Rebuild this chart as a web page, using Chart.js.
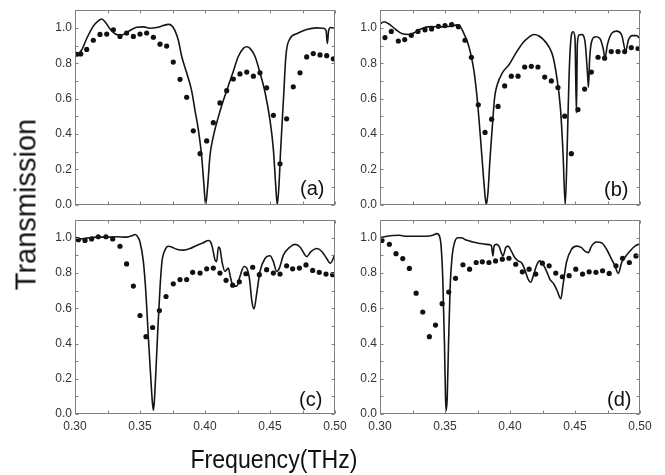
<!DOCTYPE html>
<html>
<head>
<meta charset="utf-8">
<script src="https://cdn.jsdelivr.net/npm/chart.js@4.4.1/dist/chart.umd.min.js"></script>
<style>
  body { margin: 0; background: #fff; width: 665px; height: 475px; position: relative; overflow: hidden;
         font-family: "Liberation Sans", Arial, sans-serif; color: #111; }
  canvas { position: absolute; }
  .panelTag { position: absolute; font-size: 20px; line-height: 20px; white-space: nowrap; }
  #yTitle { position: absolute; left: -94px; top: 190px; width: 240px; height: 29px; line-height: 29px;
            font-size: 29px; text-align: center; transform: rotate(-90deg); }
  #xTitle { position: absolute; left: 74px; top: 446px; width: 400px; line-height: 26px; font-size: 26px;
            text-align: center; transform: scaleX(0.89); }
</style>
</head>
<body>
<canvas id="panelA" width="345" height="215" style="left:0px;top:0px"></canvas>
<canvas id="panelB" width="360" height="215" style="left:305px;top:0px"></canvas>
<canvas id="panelC" width="355" height="265" style="left:0px;top:210px"></canvas>
<canvas id="panelD" width="360" height="265" style="left:305px;top:210px"></canvas>

<div class="panelTag" style="left:300px;top:178px">(a)</div>
<div class="panelTag" style="left:604px;top:179px">(b)</div>
<div class="panelTag" style="left:299px;top:389px">(c)</div>
<div class="panelTag" style="left:607px;top:389px">(d)</div>
<div id="yTitle">Transmission</div>
<div id="xTitle">Frequency(THz)</div>

<script>
// axis ticks
const X_LABELS = [0.30, 0.35, 0.40, 0.45, 0.50];
const Y_LABELS = [0.0, 0.2, 0.4, 0.6, 0.8, 1.0];
const X_MARKS = [0.30, 0.325, 0.35, 0.375, 0.40, 0.425, 0.45, 0.475, 0.50];
const Y_MARKS = [0.0, 0.1, 0.2, 0.3, 0.4, 0.5, 0.6, 0.7, 0.8, 0.9, 1.0];

// (a) simulation line + measured dots
const A_LINE_F = [0.3000,0.3026,0.3051,0.3090,0.3141,0.3179,0.3205,0.3231,0.3269,0.3308,0.3346,0.3385,0.3423,0.3474,0.3526,0.3577,0.3628,0.3679,0.3718,0.3744,0.3769,0.3795,0.3821,0.3859,0.3897,0.3923,0.3949,0.3974,0.3992,0.4005,0.4021,0.4038,0.4064,0.4103,0.4141,0.4179,0.4218,0.4256,0.4295,0.4321,0.4346,0.4385,0.4423,0.4462,0.4500,0.4526,0.4544,0.4556,0.4569,0.4582,0.4603,0.4623,0.4654,0.4705,0.4782,0.4859,0.4910,0.4931,0.4941,0.4951,0.4967,0.4987,0.5000];
const A_LINE_T = [0.856,0.856,0.875,0.940,1.010,1.040,1.050,1.035,0.994,0.967,0.958,0.967,0.985,1.004,1.006,0.998,1.002,1.013,1.020,1.013,0.985,0.930,0.838,0.746,0.645,0.534,0.424,0.276,0.110,0.000,0.110,0.276,0.387,0.497,0.589,0.672,0.755,0.838,0.884,0.893,0.884,0.838,0.746,0.635,0.479,0.313,0.110,0.000,0.110,0.313,0.589,0.847,0.939,0.967,0.991,1.000,0.998,0.985,0.912,0.985,1.002,1.000,0.994];
const A_DOT_F = [0.3013,0.3044,0.3090,0.3141,0.3192,0.3244,0.3295,0.3346,0.3397,0.3449,0.3500,0.3551,0.3603,0.3654,0.3705,0.3756,0.3808,0.3859,0.3910,0.3962,0.4013,0.4064,0.4115,0.4167,0.4218,0.4269,0.4321,0.4372,0.4423,0.4474,0.4526,0.4577,0.4628,0.4679,0.4731,0.4782,0.4833,0.4885,0.4936,0.4987];
const A_DOT_T = [0.851,0.853,0.878,0.930,0.963,0.965,0.989,0.952,0.971,0.952,0.965,0.971,0.947,0.908,0.897,0.807,0.709,0.608,0.418,0.289,0.361,0.464,0.576,0.645,0.711,0.740,0.750,0.727,0.746,0.661,0.506,0.232,0.486,0.667,0.746,0.836,0.855,0.847,0.843,0.825];

// (b)
const B_LINE_F = [0.3000,0.3031,0.3069,0.3121,0.3172,0.3223,0.3262,0.3313,0.3390,0.3467,0.3544,0.3595,0.3621,0.3646,0.3672,0.3697,0.3723,0.3749,0.3774,0.3795,0.3810,0.3818,0.3831,0.3846,0.3864,0.3882,0.3903,0.3941,0.3992,0.4044,0.4095,0.4146,0.4185,0.4223,0.4262,0.4300,0.4330,0.4358,0.4388,0.4408,0.4425,0.4441,0.4454,0.4467,0.4485,0.4500,0.4511,0.4518,0.4531,0.4552,0.4577,0.4598,0.4603,0.4613,0.4628,0.4659,0.4690,0.4716,0.4731,0.4749,0.4782,0.4818,0.4859,0.4890,0.4911,0.4941,0.4972,0.5000];
const B_LINE_T = [1.022,1.035,1.022,0.991,0.967,0.963,0.972,0.994,1.007,1.006,1.009,1.017,1.004,0.967,0.921,0.856,0.755,0.589,0.368,0.166,0.037,0.000,0.074,0.258,0.442,0.608,0.681,0.746,0.792,0.856,0.912,0.948,0.963,0.954,0.930,0.893,0.840,0.730,0.545,0.290,0.000,0.353,0.720,0.923,0.978,0.941,0.519,0.905,0.960,0.963,0.923,0.720,0.665,0.830,0.923,0.950,0.941,0.886,0.830,0.904,0.969,0.982,0.960,0.870,0.932,0.956,0.956,0.940];
const B_DOT_F = [0.3038,0.3087,0.3141,0.3190,0.3241,0.3292,0.3346,0.3397,0.3449,0.3500,0.3551,0.3603,0.3654,0.3703,0.3756,0.3808,0.3859,0.3908,0.3959,0.4010,0.4062,0.4113,0.4164,0.4215,0.4267,0.4318,0.4369,0.4421,0.4472,0.4523,0.4574,0.4626,0.4677,0.4728,0.4779,0.4831,0.4882,0.4933,0.4985];
const B_DOT_T = [0.945,0.980,0.926,0.934,0.958,0.980,0.989,0.994,1.009,1.013,1.018,1.007,0.930,0.834,0.565,0.409,0.484,0.556,0.672,0.727,0.727,0.779,0.783,0.779,0.722,0.700,0.663,0.501,0.289,0.538,0.654,0.750,0.834,0.829,0.866,0.866,0.866,0.889,0.884];

// (c)
const C_LINE_F = [0.3000,0.3038,0.3090,0.3167,0.3244,0.3321,0.3397,0.3444,0.3462,0.3479,0.3500,0.3526,0.3546,0.3564,0.3582,0.3595,0.3603,0.3610,0.3623,0.3638,0.3654,0.3669,0.3692,0.3718,0.3744,0.3782,0.3833,0.3885,0.3936,0.3987,0.4026,0.4044,0.4059,0.4077,0.4090,0.4103,0.4115,0.4133,0.4154,0.4179,0.4197,0.4218,0.4244,0.4269,0.4300,0.4321,0.4341,0.4362,0.4377,0.4397,0.4423,0.4462,0.4500,0.4526,0.4551,0.4572,0.4603,0.4654,0.4692,0.4731,0.4762,0.4782,0.4813,0.4859,0.4897,0.4936,0.4962,0.4982,0.5000];
const C_LINE_T = [1.004,0.994,0.998,1.004,1.004,1.006,1.004,1.013,1.019,1.009,0.976,0.865,0.680,0.439,0.217,0.069,0.022,0.069,0.254,0.494,0.717,0.865,0.930,0.952,0.948,0.935,0.930,0.939,0.957,0.972,0.985,0.976,0.939,0.874,0.865,0.948,0.939,0.856,0.809,0.828,0.772,0.726,0.726,0.781,0.837,0.828,0.772,0.633,0.596,0.680,0.809,0.883,0.898,0.865,0.809,0.828,0.902,0.948,0.963,0.948,0.911,0.893,0.920,0.939,0.924,0.883,0.856,0.874,0.911];
const C_DOT_F = [0.3026,0.3077,0.3128,0.3179,0.3238,0.3290,0.3346,0.3397,0.3449,0.3500,0.3546,0.3597,0.3649,0.3700,0.3756,0.3808,0.3859,0.3905,0.3962,0.4013,0.4064,0.4115,0.4162,0.4213,0.4264,0.4315,0.4367,0.4418,0.4474,0.4526,0.4577,0.4628,0.4674,0.4726,0.4777,0.4828,0.4879,0.4931,0.4982];
const C_DOT_T = [0.989,0.985,0.994,1.006,1.006,0.994,0.952,0.852,0.726,0.559,0.439,0.491,0.587,0.667,0.739,0.763,0.763,0.804,0.800,0.824,0.828,0.800,0.759,0.731,0.750,0.796,0.833,0.791,0.819,0.800,0.794,0.841,0.824,0.828,0.846,0.815,0.804,0.794,0.791];

// (d)
const D_LINE_F = [0.3000,0.3033,0.3098,0.3149,0.3201,0.3278,0.3355,0.3406,0.3437,0.3458,0.3470,0.3483,0.3496,0.3504,0.3509,0.3517,0.3527,0.3540,0.3555,0.3573,0.3599,0.3625,0.3663,0.3715,0.3766,0.3817,0.3856,0.3869,0.3877,0.3895,0.3915,0.3933,0.3946,0.3967,0.3985,0.4010,0.4036,0.4062,0.4087,0.4113,0.4139,0.4159,0.4183,0.4208,0.4229,0.4254,0.4285,0.4306,0.4337,0.4362,0.4391,0.4409,0.4434,0.4473,0.4512,0.4550,0.4576,0.4602,0.4627,0.4666,0.4704,0.4743,0.4781,0.4807,0.4833,0.4859,0.4892,0.4923,0.4961,0.5000];
const D_LINE_T = [1.000,1.006,1.013,1.015,1.009,1.009,1.009,1.015,1.024,1.009,0.953,0.766,0.393,0.093,0.019,0.093,0.393,0.729,0.897,0.972,1.000,1.000,0.987,0.976,0.968,0.963,0.957,0.897,0.953,0.963,0.953,0.916,0.897,0.944,0.953,0.925,0.888,0.869,0.860,0.822,0.766,0.748,0.794,0.850,0.869,0.850,0.804,0.766,0.738,0.701,0.654,0.738,0.860,0.935,0.953,0.944,0.925,0.916,0.953,0.976,0.972,0.935,0.879,0.841,0.798,0.860,0.897,0.925,0.953,0.966];
const D_DOT_F = [0.3015,0.3072,0.3123,0.3175,0.3226,0.3278,0.3329,0.3380,0.3427,0.3478,0.3529,0.3581,0.3638,0.3689,0.3740,0.3787,0.3838,0.3889,0.3941,0.3992,0.4044,0.4095,0.4147,0.4198,0.4249,0.4301,0.4352,0.4403,0.4455,0.4506,0.4558,0.4609,0.4661,0.4712,0.4763,0.4815,0.4866,0.4918,0.4969];
const D_DOT_T = [0.985,0.963,0.910,0.882,0.826,0.686,0.579,0.439,0.505,0.626,0.692,0.770,0.847,0.822,0.860,0.864,0.860,0.869,0.879,0.884,0.850,0.807,0.822,0.794,0.856,0.841,0.800,0.779,0.785,0.822,0.794,0.807,0.804,0.813,0.798,0.841,0.884,0.860,0.897];

// box round the plot with small inward ticks on all four sides
const frameTicks = {
  id: "frameTicks",
  afterDraw(chart) {
    const { ctx, chartArea: a, scales } = chart;
    const L = Math.round(a.left) + 0.5;
    const R = Math.round(a.right) - 0.5;
    const T = Math.round(a.top) + 0.5;
    const B = Math.round(a.bottom) - 0.5;

    ctx.save();
    ctx.strokeStyle = "#7f7f7f";
    ctx.lineWidth = 1;
    ctx.strokeRect(L, T, R - L, B - T);
    ctx.beginPath();
    X_MARKS.forEach(v => {
      const px = Math.round(scales.x.getPixelForValue(v)) + 0.5;
      ctx.moveTo(px, B); ctx.lineTo(px, B - 3);
      ctx.moveTo(px, T); ctx.lineTo(px, T + 3);
    });
    Y_MARKS.forEach(v => {
      const py = Math.round(scales.y.getPixelForValue(v)) + 0.5;
      ctx.moveTo(L, py); ctx.lineTo(L + 3, py);
      ctx.moveTo(R, py); ctx.lineTo(R - 3, py);
    });
    ctx.stroke();
    ctx.restore();
  }
};

function toPoints(fs, ts) {
  return fs.map((f, i) => ({ x: f, y: ts[i] }));
}

function makePanel(id, lineF, lineT, dotF, dotT, padRight, xHeight, showX) {
  const ctx = document.getElementById(id).getContext("2d");
  const tickFont = { family: "'Liberation Sans', Arial, sans-serif", size: 12 };

  new Chart(ctx, {
    type: "scatter",
    data: {
      datasets: [
        {
          data: toPoints(lineF, lineT),
          showLine: true,
          pointRadius: 0,
          borderColor: "#151515",
          borderWidth: 1.6,
          cubicInterpolationMode: "monotone"
        },
        {
          data: toPoints(dotF, dotT),
          showLine: false,
          pointRadius: 2.6,
          pointBorderWidth: 0,
          pointBackgroundColor: "#111"
        }
      ]
    },
    options: {
      responsive: false,
      animation: false,
      events: [],
      layout: { padding: { left: 0, right: padRight, top: 8, bottom: 0 } },
      plugins: {
        legend: { display: false },
        tooltip: { enabled: false }
      },
      scales: {
        x: {
          type: "linear",
          min: 0.30,
          max: 0.50,
          grid: { display: false, drawTicks: false },
          border: { display: false },
          afterBuildTicks: s => { s.ticks = X_LABELS.map(v => ({ value: v })); },
          afterFit: s => { s.height = xHeight; },
          ticks: {
            display: showX,
            autoSkip: false,
            maxRotation: 0,
            padding: 5,
            color: "#333",
            font: tickFont,
            callback: v => v.toFixed(2)
          }
        },
        y: {
          min: 0,
          max: 1.1,
          grid: { display: false, drawTicks: false },
          border: { display: false },
          afterBuildTicks: s => { s.ticks = Y_LABELS.map(v => ({ value: v })); },
          afterFit: s => { s.width = 75; },
          ticks: {
            padding: 3,
            color: "#333",
            font: tickFont,
            callback: v => v.toFixed(1)
          }
        }
      }
    },
    plugins: [frameTicks]
  });
}

makePanel("panelA", A_LINE_F, A_LINE_T, A_DOT_F, A_DOT_T, 10, 8, false);
makePanel("panelB", B_LINE_F, B_LINE_T, B_DOT_F, B_DOT_T, 25, 8, false);
makePanel("panelC", C_LINE_F, C_LINE_T, C_DOT_F, C_DOT_T, 20, 61, true);
makePanel("panelD", D_LINE_F, D_LINE_T, D_DOT_F, D_DOT_T, 25, 61, true);
</script>
</body>
</html>
